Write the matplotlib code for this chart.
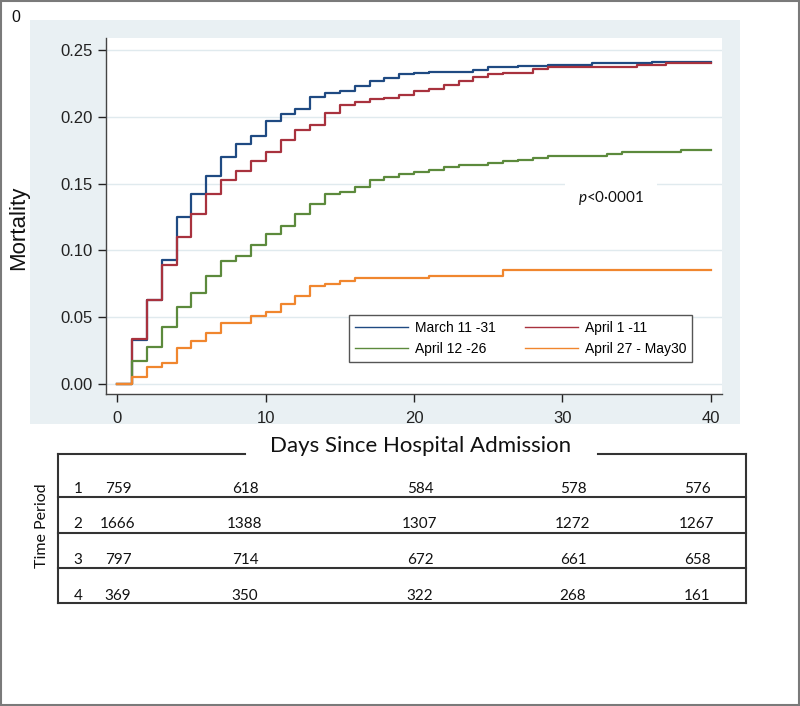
import numpy as np
import matplotlib
matplotlib.use("Agg")
import matplotlib.pyplot as plt
from matplotlib.patches import Rectangle

plt.rcParams['font.family'] = ['Liberation Sans', 'DejaVu Sans']
plt.rcParams['mathtext.fontset'] = 'custom'
plt.rcParams['mathtext.it'] = 'Lato:italic'
plt.rcParams['mathtext.rm'] = 'Lato'

# ---------------- data ----------------
days = np.arange(0, 41)

labels = ["March 11 -31", "April 1 -11", "April 12 -26", "April 27 - May30"]

mort_march = [0, 0.033, 0.063, 0.0925, 0.125, 0.1425, 0.156, 0.170, 0.1795, 0.186,
              0.197, 0.202, 0.206, 0.215, 0.2175, 0.219, 0.223, 0.227, 0.229, 0.232,
              0.233, 0.2335, 0.2335, 0.2335, 0.235, 0.237, 0.237, 0.238, 0.238, 0.239,
              0.239, 0.239, 0.240, 0.240, 0.240, 0.240, 0.241, 0.241, 0.241, 0.241, 0.241]
mort_apr1 = [0, 0.034, 0.063, 0.089, 0.110, 0.127, 0.1425, 0.1525, 0.1595, 0.167,
             0.1735, 0.1825, 0.190, 0.194, 0.2025, 0.209, 0.211, 0.213, 0.214, 0.216,
             0.219, 0.221, 0.224, 0.227, 0.230, 0.232, 0.233, 0.233, 0.236, 0.237,
             0.237, 0.2375, 0.2375, 0.2375, 0.2375, 0.239, 0.239, 0.240, 0.240, 0.240, 0.240]
mort_apr12 = [0, 0.0175, 0.0275, 0.043, 0.0575, 0.068, 0.081, 0.092, 0.096, 0.104,
              0.112, 0.118, 0.127, 0.1345, 0.1425, 0.144, 0.1475, 0.1525, 0.155, 0.1575,
              0.159, 0.1605, 0.1625, 0.164, 0.164, 0.1655, 0.167, 0.168, 0.169, 0.171,
              0.171, 0.171, 0.171, 0.1725, 0.174, 0.174, 0.174, 0.174, 0.175, 0.175, 0.175]
mort_apr27 = [0, 0.005, 0.0125, 0.016, 0.027, 0.0325, 0.038, 0.046, 0.046, 0.051,
              0.054, 0.060, 0.0655, 0.073, 0.0745, 0.077, 0.079, 0.079, 0.079, 0.079,
              0.079, 0.081, 0.081, 0.081, 0.081, 0.081, 0.085, 0.085, 0.085, 0.085,
              0.085, 0.085, 0.085, 0.085, 0.085, 0.085, 0.085, 0.085, 0.085, 0.085, 0.085]
series = [mort_march, mort_apr1, mort_apr12, mort_apr27]
colors = ["#1f4a82", "#a8323e", "#5c8a3c", "#f0862e"]

xticks = [0, 10, 20, 30, 40]
yticks = [0.00, 0.05, 0.10, 0.15, 0.20, 0.25]

periods = ["1", "2", "3", "4"]
at_risk = [[759, 618, 584, 578, 576],
           [1666, 1388, 1307, 1272, 1267],
           [797, 714, 672, 661, 658],
           [369, 350, 322, 268, 161]]

# ---------------- layout helpers ----------------
W, H = 800, 706
def fx(px): return px / W
def fy(py): return 1 - py / H

fig = plt.figure(figsize=(8, 7.06), dpi=100)
fig.patch.set_facecolor("white")

# outer border
fig.patches.append(Rectangle((0.001, 0.001), 0.998, 0.998, transform=fig.transFigure,
                             fill=False, edgecolor="#7a7a7a", lw=1.5, zorder=-5))
# light panel
fig.patches.append(Rectangle((fx(30), fy(424)), fx(740) - fx(30), fy(20) - fy(424),
                             transform=fig.transFigure, facecolor="#e9f0f3",
                             edgecolor="none", zorder=-5))

ax = fig.add_axes([fx(106), fy(394), fx(722) - fx(106), fy(38) - fy(394)])
ax.set_facecolor("white")
handles = []
for d, c, lab in zip(series, colors, labels):
    h, = ax.step(days, d, where="post", color=c, lw=1.6, label=lab)
    handles.append(h)

ax.set_xlim(-0.76, 40.75)
ax.set_ylim(-0.0075, 0.259)
ax.set_xticks(xticks)
ax.set_yticks(yticks)
ax.set_yticklabels([f"{v:.2f}" for v in yticks])
ax.tick_params(axis="both", labelsize=12, colors="#222222", length=6, width=1, direction="out")
ax.tick_params(axis="x", pad=6)
ax.yaxis.grid(True, color="#e0eaee", lw=1.0)
ax.set_axisbelow(True)
for s in ["top", "right"]:
    ax.spines[s].set_visible(False)
for s in ["left", "bottom"]:
    ax.spines[s].set_color("#444444")
    ax.spines[s].set_linewidth(1.0)

# legend laid out row-wise: (March, April 1) / (April 12, April 27)
order = [0, 2, 1, 3]
leg = ax.legend([handles[i] for i in order], [labels[i] for i in order],
                loc="upper left", bbox_to_anchor=(fx(349), fy(315)),
                bbox_transform=fig.transFigure, ncol=2, fontsize=10, frameon=True,
                fancybox=False, edgecolor="#555555", framealpha=1, borderpad=0.45,
                handlelength=3.8, handletextpad=0.5, columnspacing=2.1,
                labelspacing=0.45, borderaxespad=0)
leg.get_frame().set_linewidth(1.0)
for ln in leg.get_lines():
    ln.set_linewidth(1.0)

ax.text(fx(611), fy(198), r"$p$<0·0001", transform=fig.transFigure, fontsize=11,
        family="Lato", ha="center", va="center", color="#111111",
        bbox=dict(facecolor="white", edgecolor="none", pad=9))

fig.text(fx(19), fy(228), "Mortality", rotation=90, fontsize=16, ha="center",
         va="center", color="#111111")
fig.text(fx(16), fy(17), "0", fontsize=11.5, ha="center", va="center", color="#111111")

# ---------------- risk table ----------------
tax = fig.add_axes([0, 0, 1, 1])
tax.set_xlim(0, W)
tax.set_ylim(H, 0)
tax.axis("off")
tax.patch.set_visible(False)

lc = "#333333"
tax.plot([58, 245], [454, 454], color=lc, lw=1.5)
tax.plot([598, 746], [454, 454], color=lc, lw=1.5)
tax.plot([58, 58], [454, 603], color=lc, lw=1.5)
tax.plot([746, 746], [454, 603], color=lc, lw=1.5)
for yy in [497, 533, 568, 603]:
    tax.plot([58, 746], [yy, yy], color=lc, lw=1.5)

tax.text(421, 446, "Days Since Hospital Admission", family="Lato", fontsize=16,
         ha="center", va="center", color="#111111")
tax.text(42, 526, "Time Period", family="Lato", fontsize=11.5, rotation=90,
         ha="center", va="center", color="#111111")

col_x = [118, 245, 420, 573, 697]
row_y = [489, 524.5, 559.5, 595.5]
for p, row, yy in zip(periods, at_risk, row_y):
    tax.text(78, yy, p, family="Lato", fontsize=11, ha="center", va="center", color="#111111")
    for v, xx in zip(row, col_x):
        tax.text(xx, yy, str(v), family="Lato", fontsize=11, ha="center", va="center",
                 color="#111111")

fig.savefig("out.png", dpi=100)
